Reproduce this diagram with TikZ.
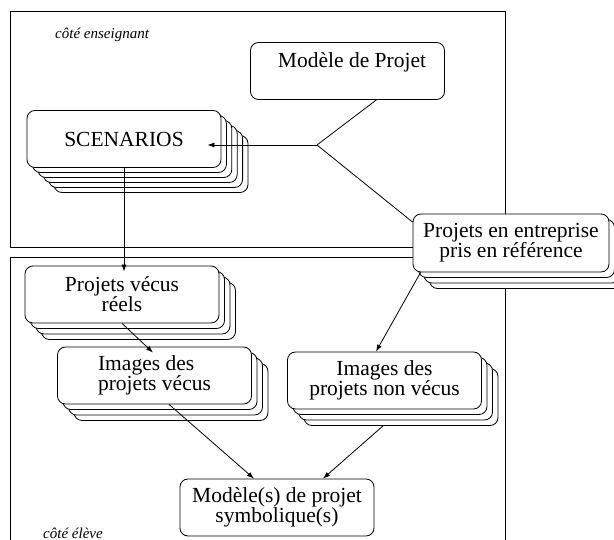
\documentclass[tikz,border=0pt]{standalone}
\usepackage{fontspec}
\setmainfont{Liberation Serif}
\usepackage{tikz}
\usetikzlibrary{arrows.meta, calc, shadows}

\begin{document}
\begin{tikzpicture}[x=1pt, y=-1pt,
  boite/.style={rectangle, rounded corners=8pt, draw, fill=white, line width=0.8pt,
                minimum width=194pt, minimum height=57pt, inner sep=2pt,
                font=\fontsize{21.5}{20}\selectfont, align=center},
  pile3/.style={general shadow={shadow xshift=16.5pt, shadow yshift=-16.5pt, draw, fill=white},
                general shadow={shadow xshift=11pt, shadow yshift=-11pt, draw, fill=white},
                general shadow={shadow xshift=5.5pt, shadow yshift=-5.5pt, draw, fill=white}},
  pile5/.style={general shadow={shadow xshift=27pt, shadow yshift=-25pt, draw, fill=white},
                general shadow={shadow xshift=21.6pt, shadow yshift=-20pt, draw, fill=white},
                general shadow={shadow xshift=16.2pt, shadow yshift=-15pt, draw, fill=white},
                general shadow={shadow xshift=10.8pt, shadow yshift=-10pt, draw, fill=white},
                general shadow={shadow xshift=5.4pt, shadow yshift=-5pt, draw, fill=white}},
  lbl/.style={font=\fontsize{15}{17}\selectfont\itshape, inner sep=0pt, anchor=west},
  cadre/.style={draw, line width=0.8pt},
  fleche/.style={-{Latex[length=7pt, width=5pt]}, line width=0.8pt},
  trait/.style={line width=0.8pt}
]
\path[use as bounding box, clip] (0,0) rectangle (614,540);

% Frames
\draw[cadre] (10,11) rectangle (505,247);
\draw[cadre] (10,257) rectangle (505,580);
\node[lbl] (ens) at (55,35) {côté enseignant};
\node[lbl] (elv) at (43,533) {côté élève};

% Teacher side
\node[boite] (modele) at (347.5,71) {};
\node[font=\fontsize{21.5}{20}\selectfont] (tmodele) at (352,62) {Modèle de Projet};
\node[boite, pile5] (scen) at (124,139) {SCENARIOS};
\coordinate (jonc) at (317,145);

% Reference projects
\node[boite, pile3, minimum width=196pt, minimum height=58pt] (entr) at (511,243)
  {Projets en entreprise\\pris en référence};

% Pupil side
\node[boite, pile3] (vecus) at (122,294.5) {Projets vécus\\réels};
\node[boite, pile3, align=left] (imgv) at (154.5,375.5) {Images des\\projets vécus};
\node[boite, pile3] (nvec) at (384.5,380.5) {Images des\\projets non vécus};
\node[boite] (symb) at (277,507.5) {Modèle(s) de projet\\symbolique(s)};

% Connectors
\draw[trait] (modele.-45) -- (jonc);
\draw[trait] (jonc) -- (entr.168);
\draw[fleche] (jonc) -- ($(scen.east |- jonc)+(-14,0)$);
\draw[fleche] (scen.south) -- ($(scen.south |- vecus.north)+(0,6)$);
\draw[fleche] (vecus.south) -- ($(imgv.north)+(-1.5,6)$);
\draw[fleche] ($(entr.south west)+(8,0)$) -- ($(nvec.north)+(-8.5,0)$);
\draw[fleche] ($(imgv.south)+(14.5,0)$) -- ($(symb.north)+(-23,0)$);
\draw[fleche] ($(nvec.south)+(-1.5,16.5)$) -- ($(symb.north)+(46,0)$);
\end{tikzpicture}
\end{document}
